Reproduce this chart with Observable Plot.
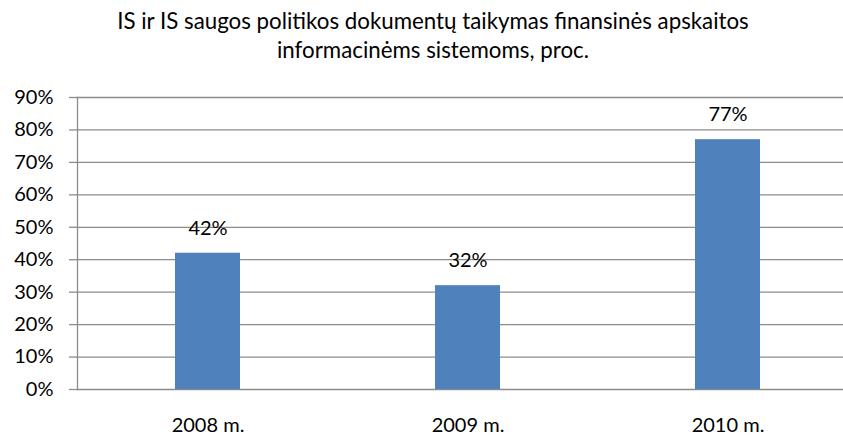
<!DOCTYPE html>
<html>
<head>
<meta charset="utf-8">
<script src="https://cdn.jsdelivr.net/npm/d3@7"></script>
<script src="https://cdn.jsdelivr.net/npm/@observablehq/plot@0.6"></script>
<style>
  html, body { margin: 0; padding: 0; background: #fff; }
  #wrap { position: relative; width: 843px; height: 437px; overflow: hidden; font-family: Lato, "Open Sans", sans-serif; }
  #title { position: absolute; left: 0; top: 6px; width: 866px; text-align: center; font-size: 22.3px; line-height: 29px; color: #000; }
  #chart { position: absolute; left: 0; top: 0; width: 860px; }
  #chart svg { max-width: none !important; }
</style>
</head>
<body>
<div id="wrap">
  <div id="chart"></div>
  <div id="title">IS ir IS saugos politikos dokumentų taikymas finansinės apskaitos<br>informacinėms sistemoms, proc.</div>
</div>
<script>
const years = ["2008 m.", "2009 m.", "2010 m."];
const values = [42, 32, 77];
const yTicks = [0, 10, 20, 30, 40, 50, 60, 70, 80, 90];

const data = years.map((y, i) => ({year: y, value: values[i]}));

const chart = Plot.plot({
  width: 860,
  height: 437,
  marginLeft: 77,
  marginRight: 3,
  marginTop: 97,
  marginBottom: 48,
  style: {fontFamily: "Lato, 'Open Sans', sans-serif", fontSize: "20px", color: "#000", background: "#fff", maxWidth: "none"},
  x: {domain: years, paddingInner: 0.75, paddingOuter: 0.375, align: 0.5, label: null},
  y: {domain: [0, 90], label: null},
  marks: [
    Plot.ruleY(yTicks, {stroke: "#8c8c8c", strokeWidth: 1.3, strokeOpacity: 1}),
    Plot.frame({anchor: "left", stroke: "#8c8c8c", strokeWidth: 1.3}),
    Plot.axisY({ticks: yTicks, tickFormat: d => d + "%", tickSize: 8, tickPadding: 16, stroke: "#8c8c8c", strokeOpacity: 1, strokeWidth: 1.3, fontSize: 20, label: null}),
    Plot.barY(data, {x: "year", y: "value", fill: "#4F81BD"}),
    Plot.axisX({tickSize: 0, tickPadding: 28, fontSize: 20, label: null}),
    Plot.text(data, {x: "year", y: "value", text: d => d.value + "%", dy: -25, fontSize: 20, fill: "#000"})
  ]
});
document.getElementById("chart").appendChild(chart);
</script>
</body>
</html>
